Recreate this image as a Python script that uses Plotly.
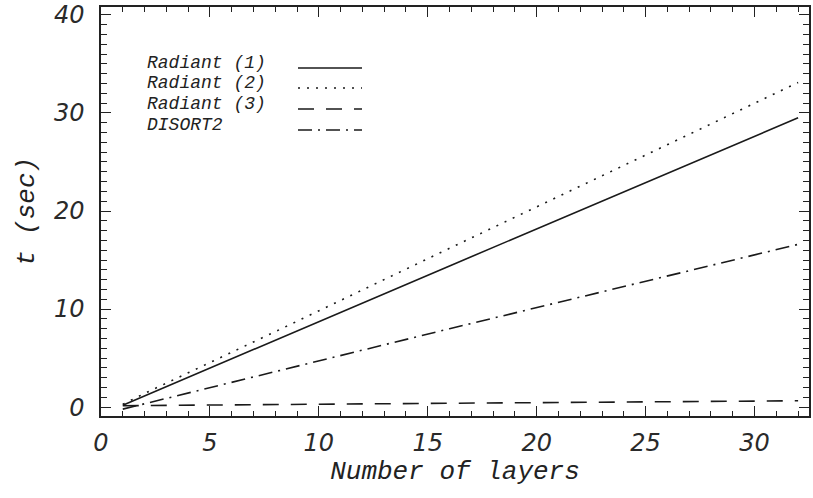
import plotly.graph_objects as go

layers = [1, 2, 4, 8, 16, 32]
radiant1 = [0.2, 1.15, 3.0, 6.8, 14.4, 29.5]
radiant2 = [0.3, 1.4, 3.5, 7.7, 16.2, 33.1]
radiant3 = [0.15, 0.17, 0.2, 0.28, 0.4, 0.65]
disort2 = [-0.2, 0.35, 1.4, 3.6, 8.0, 16.6]

names = ["Radiant (1)", "Radiant (2)", "Radiant (3)", "DISORT2"]
series = [radiant1, radiant2, radiant3, disort2]
dashes = ["solid", "2px,7px", "16px,12px", "14px,6px,2px,6px"]

xticks = [0, 5, 10, 15, 20, 25, 30]
yticks = [0, 10, 20, 30, 40]

W, H = 813, 498
L, R, T, B = 101, 4, 7, 82
pw, ph = W - L - R, H - T - B

def px(x):
    return (x - L) / pw

def py(y):
    return (H - B - y) / ph

fig = go.Figure()
for n, s, d in zip(names, series, dashes):
    fig.add_trace(go.Scatter(x=layers, y=s, mode="lines", name=n,
                             line=dict(color="#1a1a1a", width=1.6, dash=d),
                             showlegend=False))

tickfont = dict(family="DejaVu Sans", size=24, color="#2a2a2a", style="italic")
titlefont = dict(family="Liberation Mono", size=26, color="#222", style="italic")

axis_common = dict(showline=True, linecolor="#222", linewidth=1.5, mirror="allticks",
                   ticks="inside", ticklen=10, tickcolor="#222", tickwidth=1.3,
                   showgrid=False, zeroline=False, tickfont=tickfont, automargin=False)

fig.update_xaxes(range=[0, 32.5], tickvals=xticks,
                 minor=dict(dtick=1, ticks="inside", ticklen=5, tickcolor="#222", tickwidth=1.1),
                 title=dict(text="Number of layers", font=titlefont, standoff=2),
                 ticklabelstandoff=4,
                 **axis_common)
fig.update_yaxes(range=[-0.9, 40.8], tickvals=yticks,
                 minor=dict(dtick=1, ticks="inside", ticklen=6, tickcolor="#222", tickwidth=1.1),
                 title=dict(text="t (sec)", font=titlefont, standoff=12),
                 ticklabelstandoff=10,
                 **axis_common)

# legend drawn as text + sample lines
ys = [63, 83, 104, 125]
for n, d, yy in zip(names, dashes, ys):
    fig.add_annotation(x=px(145), y=py(yy), xref="paper", yref="paper", text=n,
                       showarrow=False, xanchor="left", yanchor="middle",
                       font=dict(family="Liberation Mono", size=18, color="#222", style="italic"))
    fig.add_shape(type="line", xref="paper", yref="paper",
                  x0=px(298), x1=px(362), y0=py(yy + 5), y1=py(yy + 5),
                  line=dict(color="#1a1a1a", width=1.6, dash=d))

fig.update_layout(width=W, height=H, margin=dict(l=L, r=R, t=T, b=B),
                  paper_bgcolor="white", plot_bgcolor="white", showlegend=False)

fig.write_html("out.html", config={"displayModeBar": False},
               post_script="document.body.style.margin='0';")
